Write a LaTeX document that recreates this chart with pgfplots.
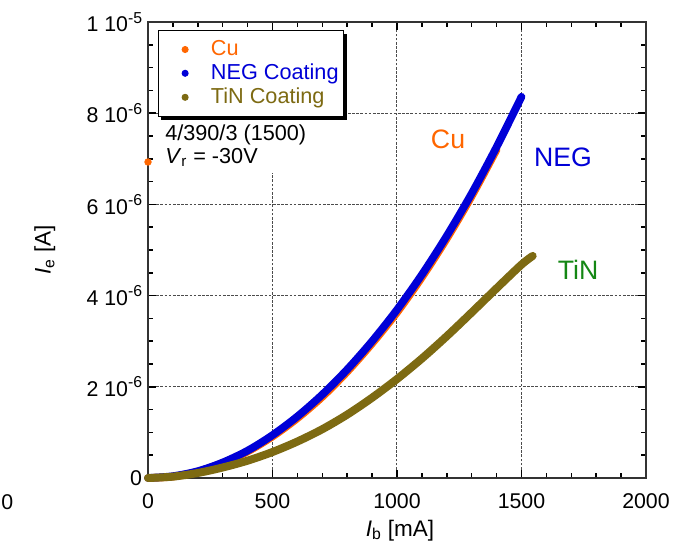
\documentclass[border=0pt]{standalone}
\usepackage{pgfplots}
\pgfplotsset{compat=1.18}
\usepackage{fontspec}
\setmainfont{Liberation Sans}

\definecolor{cuorange}{RGB}{255,102,0}
\definecolor{negblue}{RGB}{0,0,215}
\definecolor{tinolive}{RGB}{125,106,18}
\definecolor{tingreen}{RGB}{20,135,20}

\newcommand{\ee}[1]{\raisebox{0.75ex}{\fontsize{9.5}{10}\selectfont #1}}

% values of I_e in units of 1e-6 A
\pgfplotstableread{
x y
0 0
100 0.03
200 0.14
300 0.33
400 0.58
500 0.91
600 1.31
700 1.78
800 2.33
900 2.95
1000 3.63
1100 4.40
1200 5.25
1300 6.18
1400 7.20
}\cudata

\pgfplotstableread{
x y
0 0
100 0.04
200 0.15
300 0.34
400 0.60
500 0.94
600 1.35
700 1.83
800 2.38
900 3.00
1000 3.69
1100 4.46
1200 5.31
1300 6.24
1400 7.26
1500 8.36
}\negdata

\pgfplotstableread{
x y
0 0
100 0.03
200 0.11
300 0.23
400 0.38
500 0.57
600 0.80
700 1.07
800 1.39
900 1.76
1000 2.17
1100 2.62
1200 3.11
1300 3.63
1400 4.16
1500 4.68
1545 4.87
}\tindata

\begin{document}
\begin{tikzpicture}
\useasboundingbox (-88.8pt,-45pt) rectangle (324pt,286.8pt);
\begin{axis}[
    scale only axis,
    width=298.8pt, height=273.6pt,
    xmin=0, xmax=2000, ymin=0, ymax=10,
    clip=false,
    xtick={0,500,1000,1500,2000},
    minor x tick num=4,
    ytick={0,2,4,6,8,10},
    yticklabels={0, 2 10\ee{-6}, 4 10\ee{-6}, 6 10\ee{-6}, 8 10\ee{-6}, 1 10\ee{-5}},
    minor y tick num=3,
    /pgf/number format/assume math mode=true,
    /pgf/number format/1000 sep={},
    tick label style={font=\fontsize{12.8}{14}\selectfont},
    xticklabel style={yshift=-6pt},
    major tick length=5pt, minor tick length=3pt,
    tick style={line width=0.9pt, black},
    axis line style={line width=0.9pt, black!80},
    grid=major,
    major grid style={dash pattern=on 1.6pt off 0.9pt, line width=0.6pt, black!70},
    xlabel={\textit{I}\textsubscript{b} [mA]},
    ylabel={\textit{I}\textsubscript{e} [A]},
    label style={font=\fontsize{13.5}{15}\selectfont},
    xlabel style={at={(axis description cs:0.506,-0.115)}, anchor=center},
    ylabel style={at={(axis description cs:-0.207,0.5)}, anchor=center},
    dot/.style={legend image code/.code={\path[draw=none,fill=none] (-15pt,0) -- (13.5pt,0); \fill[#1] (0pt,0pt) circle (1.8pt);}},
    legend cell align=left,
    legend style={at={(rel axis cs:0.02,0.982)}, anchor=north west, name=leg,
        draw=black, line width=0.6pt, fill=white,
        font=\fontsize{13}{14}\selectfont,
        row sep=-0.5pt, inner xsep=1pt, inner ysep=4pt},
]
\addlegendimage{dot=cuorange}
\addlegendimage{dot=negblue}
\addlegendimage{dot=tinolive}
\addplot[cuorange, line width=4.6pt, line cap=round, line join=round, smooth, forget plot] table {\cudata};
\addplot[negblue, line width=4.6pt, line cap=round, line join=round, smooth, forget plot] table {\negdata};
\addplot[tinolive, line width=4.8pt, line cap=round, line join=round, smooth, forget plot] table {\tindata};
\addplot[cuorange, only marks, mark=*, mark size=2pt, forget plot] coordinates {(0,6.93)};
\legend{\textcolor{cuorange}{Cu}, \textcolor{negblue}{NEG Coating}, \textcolor{tinolive}{TiN Coating}}

\node[anchor=north west, fill=white, inner xsep=4.2pt, inner ysep=4pt, align=left,
      font=\fontsize{13}{14}\selectfont] at (axis cs:40,7.9)
      {4/390/3 (1500)\\\textit{V}\textsubscript{r} = -30V};
\node[cuorange, font=\fontsize{16}{18}\selectfont] at (axis cs:1205,7.43) {Cu};
\node[negblue, font=\fontsize{16}{18}\selectfont] at (axis cs:1667,7.03) {NEG};
\node[tingreen, font=\fontsize{16}{18}\selectfont] at (axis cs:1727,4.57) {TiN};
\node[anchor=west, inner xsep=0.5pt, font=\fontsize{12.8}{14}\selectfont] at (axis description cs:-0.297,-0.0526) {0};
\end{axis}
% shadow of the legend box
\fill[black] ([xshift=2pt]leg.south west) rectangle ([xshift=1.6pt,yshift=-1.6pt]leg.south east);
\fill[black] ([yshift=-2pt]leg.north east) rectangle ([xshift=1.6pt,yshift=-1.6pt]leg.south east);
\end{tikzpicture}
\end{document}
